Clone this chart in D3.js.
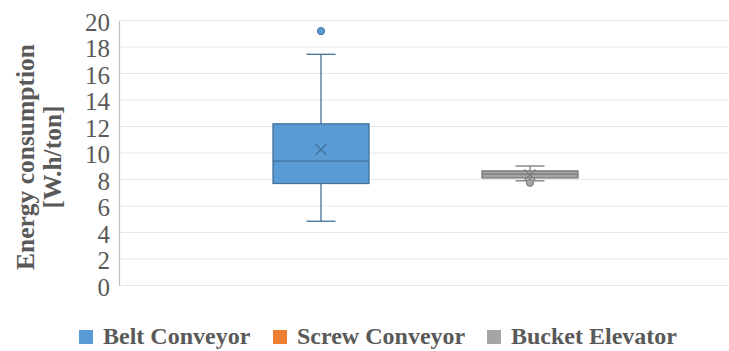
<!DOCTYPE html>
<html><head><meta charset="utf-8">
<script src="https://cdn.jsdelivr.net/npm/d3@7"></script>
<style>body{margin:0;background:#fff;}svg{display:block;} text{font-family:"Liberation Serif","Times New Roman",serif;}</style>
</head><body>
<script>
const series = ["Belt Conveyor", "Screw Conveyor", "Bucket Elevator"];
const colors = ["#5B9BD5", "#ED7D31", "#A5A5A5"];
const strokes = ["#41719C", "#AE5A21", "#787878"];
const lowWhisker = [4.85, null, 7.9];
const q1 = [7.7, null, 8.12];
const median = [9.38, null, 8.4];
const q3 = [12.2, null, 8.65];
const highWhisker = [17.45, null, 9.02];
const mean = [10.27, null, 8.35];
const outliers = [[19.2], [], [7.75]];
const yTicks = [0,2,4,6,8,10,12,14,16,18,20];

(function(){
const W = 729, H = 351;
const svg = d3.select("body").append("svg").attr("width", W).attr("height", H);
const pL = 119, pR = 732, pT = 20.5, pB = 285.5;
const y = d3.scaleLinear().domain([0, 20]).range([pB, pT]);
const x = d3.scalePoint().domain(series).range([321, 530]);
const boxW = 96, capW = 29;

svg.append("g").selectAll("line").data(yTicks).join("line")
  .attr("x1", pL).attr("x2", pR)
  .attr("y1", d => y(d)).attr("y2", d => y(d))
  .attr("stroke", "#e8e8e8").attr("stroke-width", 1);

const yAxis = d3.axisLeft(y).tickValues(yTicks).tickSize(0).tickPadding(9);
const ga = svg.append("g").attr("transform", `translate(${pL},0)`).call(yAxis);
ga.attr("font-family", null).attr("font-size", null);
ga.select(".domain").attr("stroke", "#bfbfbf").attr("stroke-width", 1.2);
ga.selectAll("text").attr("font-size", 25).attr("fill", "#595959").attr("dy", "0.38em");

const title = svg.append("text").attr("transform", `translate(25,${157}) rotate(-90)`)
  .attr("text-anchor", "middle").attr("font-weight", "bold")
  .attr("font-size", 25.5).attr("fill", "#595959");
title.append("tspan").attr("x", 0).attr("dy", "0.35em").text("Energy consumption");
title.append("tspan").attr("x", 0).attr("dy", 27).text("[W.h/ton]");

series.forEach((s, i) => {
  if (q1[i] == null) return;
  const cx = x(s);
  const g = svg.append("g");
  g.append("line").attr("x1", cx).attr("x2", cx).attr("y1", y(highWhisker[i])).attr("y2", y(q3[i]))
    .attr("stroke", strokes[i]).attr("stroke-width", 1.3);
  g.append("line").attr("x1", cx).attr("x2", cx).attr("y1", y(q1[i])).attr("y2", y(lowWhisker[i]))
    .attr("stroke", strokes[i]).attr("stroke-width", 1.3);
  [highWhisker[i], lowWhisker[i]].forEach(v => {
    g.append("line").attr("x1", cx - capW/2).attr("x2", cx + capW/2).attr("y1", y(v)).attr("y2", y(v))
      .attr("stroke", strokes[i]).attr("stroke-width", 1.3);
  });
  g.append("rect").attr("x", cx - boxW/2).attr("width", boxW)
    .attr("y", y(q3[i])).attr("height", y(q1[i]) - y(q3[i]))
    .attr("fill", colors[i]).attr("stroke", strokes[i]).attr("stroke-width", 1.3);
  g.append("line").attr("x1", cx - boxW/2).attr("x2", cx + boxW/2).attr("y1", y(median[i])).attr("y2", y(median[i]))
    .attr("stroke", strokes[i]).attr("stroke-width", 1.3);
  const m = y(mean[i]), r = 5.5;
  g.append("path").attr("d", `M${cx-r},${m-r}L${cx+r},${m+r}M${cx-r},${m+r}L${cx+r},${m-r}`)
    .attr("stroke", strokes[i]).attr("stroke-width", 1.3).attr("fill", "none");
  outliers[i].forEach(v => {
    g.append("circle").attr("cx", cx).attr("cy", y(v)).attr("r", 3.6)
      .attr("fill", colors[i]).attr("stroke", strokes[i]).attr("stroke-width", 1);
  });
});

const legendX = [79, 273, 487];
const lg = svg.append("g");
series.forEach((s, i) => {
  lg.append("rect").attr("x", legendX[i]).attr("y", 330).attr("width", 14).attr("height", 14)
    .attr("fill", colors[i]);
  lg.append("text").attr("x", legendX[i] + 24).attr("y", 336).attr("dy", "0.35em")
    .attr("font-weight", "bold").attr("font-size", 24)
    .attr("fill", "#595959").text(s);
});
})();
</script>
</body></html>
